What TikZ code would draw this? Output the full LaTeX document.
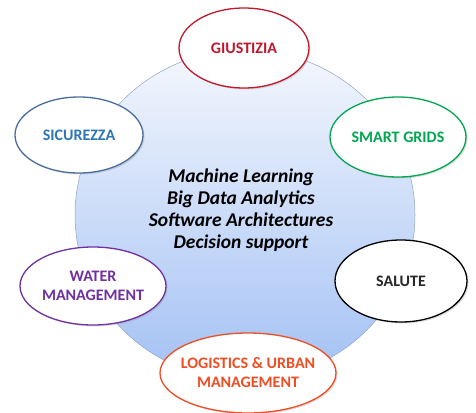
\documentclass[tikz,border=0pt]{standalone}
\usepackage{fontspec}
\setmainfont{Carlito}[BoldFont={Carlito Bold}, ItalicFont={Carlito Italic},
    BoldItalicFont={Carlito Bold Italic}]
\usepackage{tikz}
\usetikzlibrary{shapes.geometric}
\usetikzlibrary{shadows}
\definecolor{giuRed}{HTML}{C0182A}
\definecolor{sicBlue}{HTML}{2E75B6}
\definecolor{sicLine}{HTML}{4A6E9C}
\definecolor{smartGreen}{HTML}{00A650}
\definecolor{waterPurple}{HTML}{7030A0}
\definecolor{logOrange}{HTML}{EE4E24}
\definecolor{coreTop}{HTML}{F4F7FD}
\definecolor{coreBottom}{HTML}{A3C1F4}
\definecolor{coreLine}{HTML}{8EA4C6}
\tikzstyle{area}=[ellipse, draw, line width=1.3pt, fill=white, inner sep=0pt,
    drop shadow={shadow xshift=1.5pt, shadow yshift=-1.5pt, opacity=.25},
    align=center, font=\fontsize{16}{19}\selectfont\bfseries]
\tikzstyle{core}=[ellipse, draw=coreLine, line width=.5pt,
    top color=coreTop, bottom color=coreBottom]

\begin{document}
\begin{tikzpicture}[x=1pt,y=-1pt]
              \useasboundingbox (0,0) rectangle (476,412);
              % central disc with the four topics
              \node[core, minimum width=340pt, minimum height=330pt] (core) at (245,215){};
              \node[align=center, font=\fontsize{19.5}{22}\selectfont\bfseries\itshape] (topics) at (241,210)
                {Machine Learning\\Big Data Analytics\\Software Architectures\\Decision support};
              % application domains around the disc
              \node[area, draw=giuRed, text=giuRed, minimum width=130pt, minimum height=80pt] (giustizia) at (244,48){GIUSTIZIA};
              \node[area, draw=sicLine, text=sicBlue, minimum width=128pt, minimum height=76pt] (sicurezza) at (79,135){SICUREZZA};
              \node[area, draw=smartGreen, text=smartGreen, minimum width=136pt, minimum height=80pt] (smart) at (398,137){SMART GRIDS};
              \node[area, draw=waterPurple, text=waterPurple, minimum width=146pt, minimum height=78pt] (water) at (93,286){WATER\\MANAGEMENT};
              \node[area, draw=black, text=black!85, minimum width=132pt, minimum height=82pt] (salute) at (401,281){SALUTE};
              \node[area, draw=logOrange, text=logOrange, inner xsep=-12pt, minimum width=176pt, minimum height=80pt] (logistics) at (248,373){LOGISTICS \& URBAN\\MANAGEMENT};
            \end{tikzpicture}
\end{document}
